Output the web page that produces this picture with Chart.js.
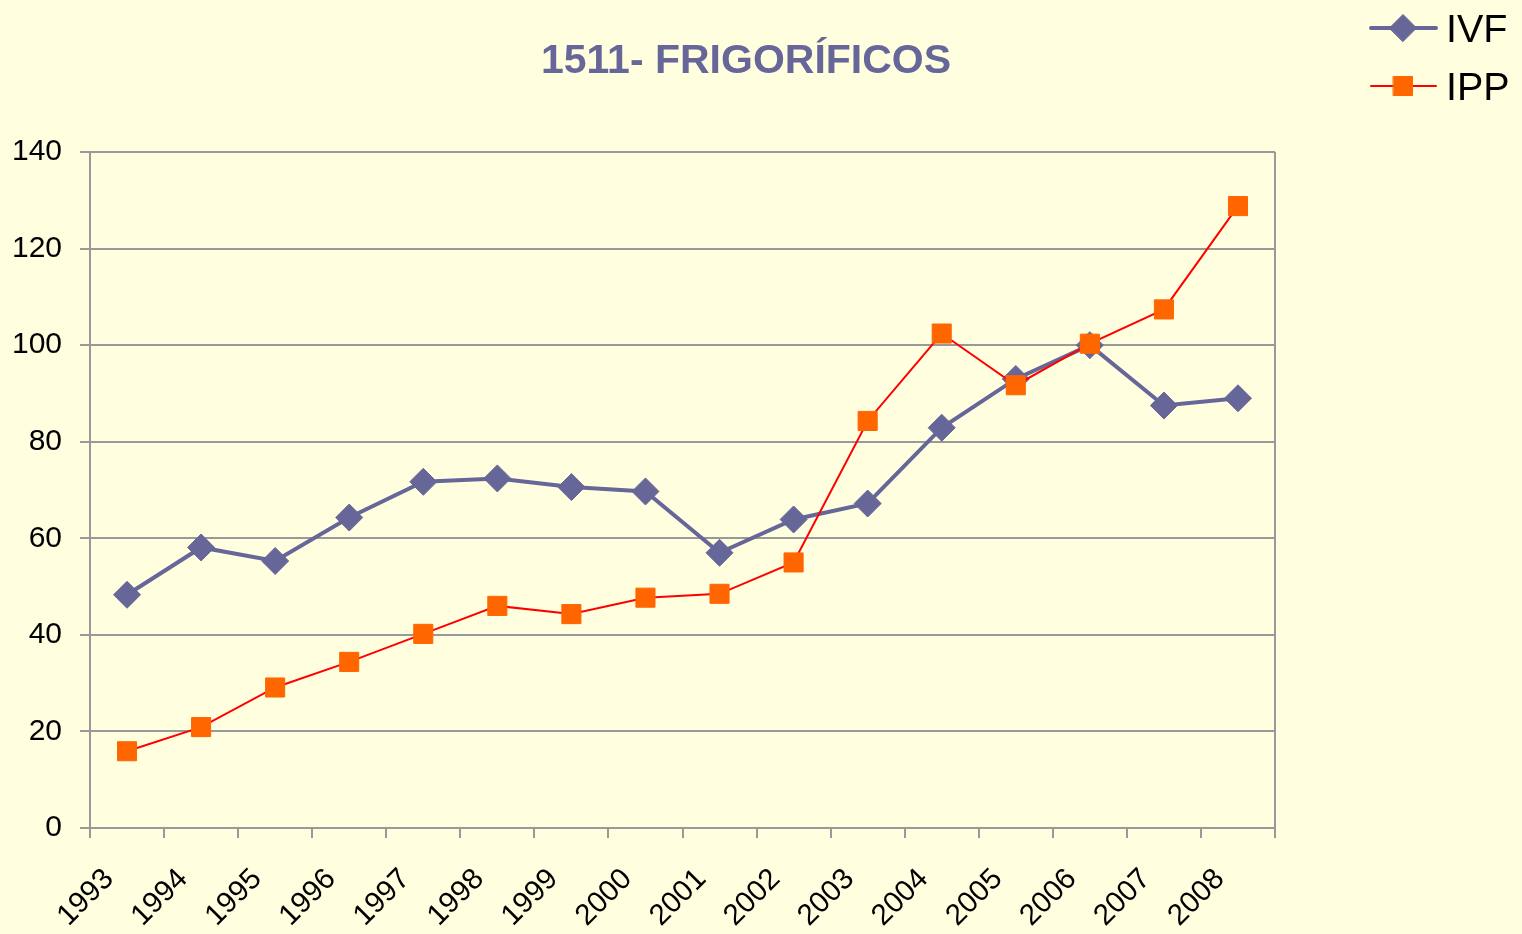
<!DOCTYPE html>
<html>
<head>
<meta charset="utf-8">
<title>1511- FRIGORÍFICOS</title>
<script src="https://cdn.jsdelivr.net/npm/chart.js@4.4.1/dist/chart.umd.min.js"></script>
<style>
  html, body { margin: 0; padding: 0; background: #FFFFE0; }
  #chart { display: block; }
</style>
</head>
<body>
<canvas id="chart" width="1522" height="934"></canvas>
<script>
const years = ['1993', '1994', '1995', '1996', '1997', '1998', '1999', '2000',
               '2001', '2002', '2003', '2004', '2005', '2006', '2007', '2008'];
const ivfValues = [48.3, 58.1, 55.3, 64.3, 71.7, 72.4, 70.6, 69.7,
                   57.0, 63.9, 67.2, 82.9, 93.0, 100.0, 87.5, 89.0];
const ippValues = [15.9, 20.9, 29.1, 34.4, 40.2, 46.0, 44.3, 47.7,
                   48.5, 55.0, 84.3, 102.4, 91.7, 100.3, 107.4, 128.8];
const yMin = 0;
const yMax = 140;
const yStep = 20;

const chartTitle = '1511- FRIGORÍFICOS';
const FONT = '"Liberation Sans", Arial, sans-serif';
const AXIS_GREY = '#999999';

// title sits above the plot, slightly right of its centre
const titlePlugin = {
    id: 'sheetTitle',
    afterDraw(chart) {
        const ctx = chart.ctx;
        ctx.save();
        ctx.font = `bold 41px ${FONT}`;
        ctx.fillStyle = '#666699';
        ctx.textAlign = 'center';
        ctx.textBaseline = 'alphabetic';
        ctx.fillText(chartTitle, 746, 73);
        ctx.restore();
    }
};

// legend in the top right corner, outside the plot
const legendPlugin = {
    id: 'cornerLegend',
    afterDraw(chart) {
        const ctx = chart.ctx;
        const rows = [28, 86];
        chart.data.datasets.forEach((ds, i) => {
            const y = rows[i];
            ctx.save();
            ctx.strokeStyle = ds.borderColor;
            ctx.lineWidth = ds.borderWidth;
            ctx.lineCap = 'round';
            ctx.beginPath();
            ctx.moveTo(1371, y);
            ctx.lineTo(1436, y);
            ctx.stroke();

            ctx.fillStyle = ds.pointBackgroundColor;
            ctx.strokeStyle = ds.pointBorderColor;
            ctx.lineWidth = ds.pointBorderWidth;
            Chart.helpers.drawPoint(ctx, {
                pointStyle: ds.pointStyle,
                radius: ds.pointRadius,
                rotation: 0,
                borderWidth: ds.pointBorderWidth
            }, 1403, y);

            ctx.fillStyle = '#000000';
            ctx.font = `39.5px ${FONT}`;
            ctx.textAlign = 'left';
            ctx.textBaseline = 'alphabetic';
            ctx.fillText(ds.label, 1446, y + 14);
            ctx.restore();
        });
    }
};

// right edge of the plot frame
const framePlugin = {
    id: 'plotFrame',
    beforeDatasetsDraw(chart) {
        const { ctx, chartArea } = chart;
        ctx.save();
        ctx.strokeStyle = AXIS_GREY;
        ctx.lineWidth = 2;
        ctx.beginPath();
        ctx.moveTo(chartArea.right, chartArea.top);
        ctx.lineTo(chartArea.right, chartArea.bottom);
        ctx.stroke();
        ctx.restore();
    }
};

new Chart(document.getElementById('chart').getContext('2d'), {
    type: 'line',
    data: {
        labels: years,
        datasets: [{
            label: 'IVF',
            data: ivfValues,
            order: 2,
            borderColor: '#666699',
            borderWidth: 4,
            pointStyle: 'rectRot',
            pointRadius: 13.5,
            pointBackgroundColor: '#666699',
            pointBorderColor: '#666699',
            pointBorderWidth: 1,
            tension: 0
        }, {
            label: 'IPP',
            data: ippValues,
            order: 1,
            borderColor: '#FF0000',
            borderWidth: 2,
            pointStyle: 'rect',
            pointRadius: 13.5,
            pointBackgroundColor: '#FF6600',
            pointBorderColor: '#FF6600',
            pointBorderWidth: 1,
            tension: 0
        }]
    },
    options: {
        responsive: false,
        devicePixelRatio: 1,
        animation: false,
        layout: {
            padding: { top: 152, right: 247, left: 0, bottom: 0 }
        },
        plugins: {
            legend: { display: false },
            title: { display: false },
            tooltip: { enabled: false }
        },
        scales: {
            x: {
                offset: true,
                afterFit(scale) { scale.height = 106; },
                grid: {
                    offset: true,
                    drawOnChartArea: false,
                    drawTicks: true,
                    tickLength: 10,
                    color: AXIS_GREY,
                    lineWidth: 2
                },
                border: { display: true, color: AXIS_GREY, width: 2 },
                ticks: {
                    autoSkip: false,
                    minRotation: 45,
                    maxRotation: 45,
                    labelOffset: -18,
                    padding: 24,
                    color: '#000000',
                    font: { family: FONT, size: 29.5 }
                }
            },
            y: {
                min: yMin,
                max: yMax,
                afterFit(scale) { scale.width = 90; },
                grid: {
                    drawTicks: true,
                    tickLength: 10,
                    color: AXIS_GREY,
                    lineWidth: 2
                },
                border: { display: true, color: AXIS_GREY, width: 2 },
                ticks: {
                    stepSize: yStep,
                    padding: 18,
                    color: '#000000',
                    font: { family: FONT, size: 30 }
                }
            }
        }
    },
    plugins: [framePlugin, titlePlugin, legendPlugin]
});
</script>
</body>
</html>
